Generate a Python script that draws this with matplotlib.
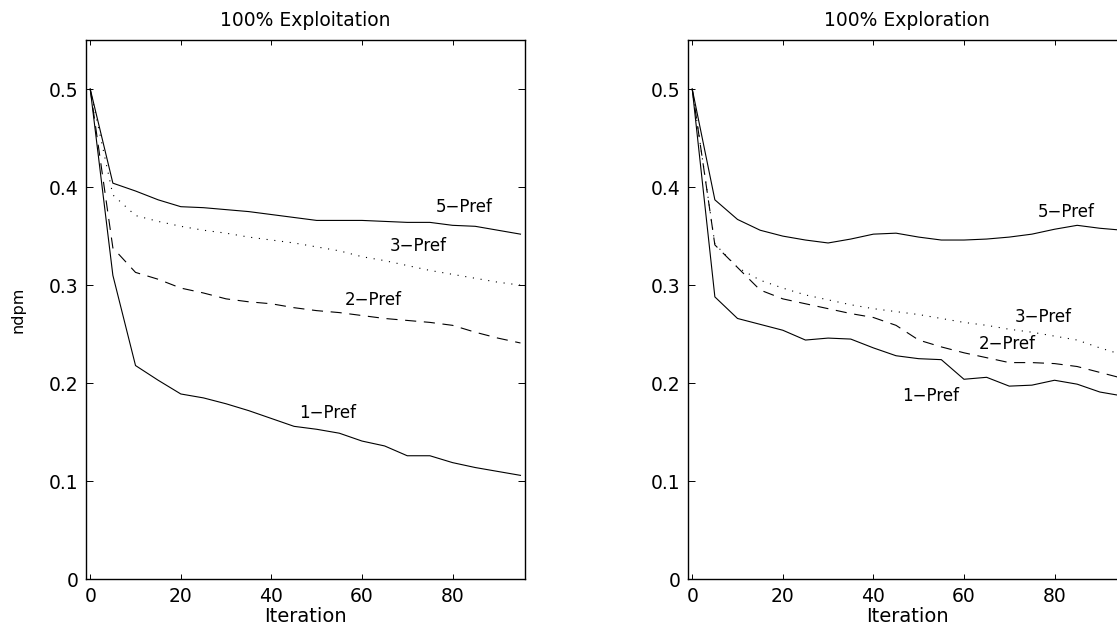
import matplotlib
matplotlib.use("Agg")
import matplotlib.pyplot as plt

plt.rcParams.update({"font.family": ["DejaVu Sans"],
                     "lines.scale_dashes": False, "axes.linewidth": 1.0})

# iterations (same grid for both runs)
iters = [0, 5, 10, 15, 20, 25, 30, 35, 40, 45, 50, 55, 60, 65, 70, 75, 80, 85, 90, 95]

# 100% exploitation
exploit_1 = [0.500, 0.310, 0.218, 0.203, 0.189, 0.185, 0.179, 0.172, 0.164, 0.156,
             0.153, 0.149, 0.141, 0.136, 0.126, 0.126, 0.119, 0.114, 0.110, 0.106]
exploit_2 = [0.500, 0.338, 0.313, 0.306, 0.297, 0.292, 0.286, 0.283, 0.281, 0.277,
             0.274, 0.272, 0.269, 0.266, 0.264, 0.262, 0.259, 0.252, 0.246, 0.241]
exploit_3 = [0.500, 0.392, 0.371, 0.365, 0.360, 0.356, 0.353, 0.349, 0.346, 0.343,
             0.339, 0.335, 0.329, 0.325, 0.320, 0.315, 0.311, 0.307, 0.303, 0.300]
exploit_5 = [0.500, 0.404, 0.396, 0.387, 0.380, 0.379, 0.377, 0.375, 0.372, 0.369,
             0.366, 0.366, 0.366, 0.365, 0.364, 0.364, 0.361, 0.360, 0.356, 0.352]

# 100% exploration
explore_1 = [0.500, 0.288, 0.266, 0.260, 0.254, 0.244, 0.246, 0.245, 0.236, 0.228,
             0.225, 0.224, 0.204, 0.206, 0.197, 0.198, 0.203, 0.199, 0.191, 0.187]
explore_2 = [0.500, 0.341, 0.318, 0.295, 0.286, 0.281, 0.276, 0.271, 0.267, 0.259,
             0.244, 0.237, 0.231, 0.226, 0.221, 0.221, 0.220, 0.217, 0.211, 0.205]
explore_3 = [0.500, 0.342, 0.318, 0.305, 0.297, 0.290, 0.285, 0.280, 0.276, 0.273,
             0.270, 0.266, 0.262, 0.259, 0.255, 0.252, 0.248, 0.244, 0.236, 0.229]
explore_5 = [0.500, 0.387, 0.367, 0.356, 0.350, 0.346, 0.343, 0.347, 0.352, 0.353,
             0.349, 0.346, 0.346, 0.347, 0.349, 0.352, 0.357, 0.361, 0.358, 0.356]

labels = ["1\u2212Pref", "2\u2212Pref", "3\u2212Pref", "5\u2212Pref"]
exploit_label_pos = [(52.5, 0.170), (62.4, 0.285), (72.5, 0.340), (82.5, 0.380)]
explore_label_pos = [(52.7, 0.187), (69.6, 0.240), (77.6, 0.267), (82.6, 0.375)]

STYLES = [dict(ls="-"), dict(ls=(0, (8, 5.5))), dict(ls=(0, (0.8, 4.8))), dict(ls="-")]

fig = plt.figure(figsize=(11.17, 6.26), dpi=100)
W, H = 1117, 626
ax_l = fig.add_axes([85.7 / W, (H - 579.3) / H, 439.3 / W, 539.3 / H])
ax_r = fig.add_axes([687.7 / W, (H - 579.3) / H, 439.3 / W, 539.3 / H])

for ax, series, lpos, title in [
        (ax_l, [exploit_1, exploit_2, exploit_3, exploit_5], exploit_label_pos, "100% Exploitation"),
        (ax_r, [explore_1, explore_2, explore_3, explore_5], explore_label_pos, "100% Exploration")]:
    for s, st in zip(series, STYLES):
        ax.plot(iters, s, color="black", lw=0.8, **st)
    for lab, (x, y) in zip(labels, lpos):
        ax.text(x, y, lab, ha="center", va="center", fontsize=12)
    ax.set_xlim(-1, 96); ax.set_ylim(0, 0.55)
    ax.set_xticks([0, 20, 40, 60, 80])
    ax.set_yticks([0, 0.1, 0.2, 0.3, 0.4, 0.5])
    ax.set_yticklabels(["0", "0.1", "0.2", "0.3", "0.4", "0.5"])
    ax.tick_params(axis="x", direction="in", top=True, length=3.6, width=0.7,
                   labelsize=13.5, pad=5.5)
    ax.tick_params(axis="y", direction="in", right=True, length=5, width=0.7,
                   labelsize=13.5, pad=5)
    ax.set_title(title, fontsize=13.5, pad=10)
    ax.set_xlabel("Iteration", fontsize=14, labelpad=0.5)

ax_l.set_ylabel("ndpm", fontsize=11.5)
ax_l.yaxis.set_label_coords(-0.138, 0.5)

fig.savefig("out.png", dpi=100)
